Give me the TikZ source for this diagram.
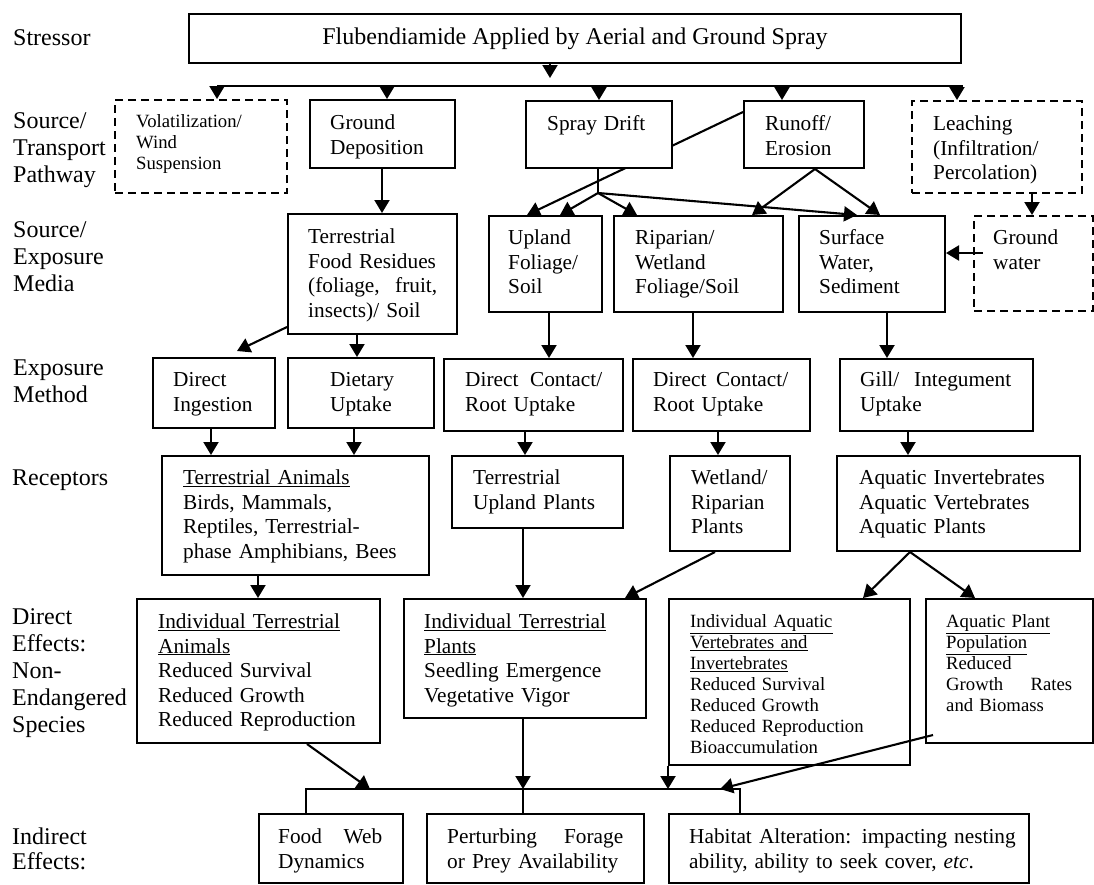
\documentclass[tikz,border=0pt]{standalone}
\usepackage{fontspec}
\setmainfont{Liberation Serif}
\usetikzlibrary{arrows.meta,backgrounds}
\newcommand\fL{\fontsize{24}{27}\selectfont}
\newcommand\fLi{\fontsize{24}{25}\selectfont}
\newcommand\fB{\fontsize{21.3}{24.5}\selectfont}
\newcommand\fS{\fontsize{18.7}{21}\selectfont}
\newcommand\bx[6][]{\node[box,#1,minimum width={#4pt-#2pt},minimum height={#5pt-#3pt}] (#6) at (#2,#3) {};}
\begin{document}
\begin{tikzpicture}[x=1pt,y=-1pt,
  box/.style={draw,line width=2pt,anchor=north west,inner sep=0pt,fill=white},
  dbox/.style={dash pattern=on 8pt off 5pt},
  txt/.style={anchor=base west,inner sep=0pt,align=left},
  ln/.style={line width=2.1pt},
  arr/.style={ln,-{Triangle[length=13pt,width=15pt]}}]
\useasboundingbox (0,0) rectangle (1094,884);

% ---------- boxes ----------
\node[box,minimum width=772pt,minimum height=49pt,font=\fL] (S) at (188,13) {Flubendiamide Applied by Aerial and Ground Spray};
\bx[dbox]{114}{99}{286}{192}{VO}
\bx{309}{99}{454}{167}{GD}
\bx{525}{100}{671}{167}{SD}
\bx{743}{100}{863}{167}{RO}
\bx[dbox]{911}{100}{1081}{192}{LE}
\bx{287}{213}{456}{333}{FR}
\bx{488}{215}{601}{311}{UF}
\bx{613}{215}{782}{311}{RW}
\bx{798}{215}{944}{311}{SW}
\bx[dbox]{973}{215}{1092}{310}{GW}
\bx{152}{357}{274}{427}{DI}
\bx{287}{357}{433}{427}{DU}
\bx{443}{358}{622}{430}{DCa}
\bx{632}{358}{809}{430}{DCb}
\bx{839}{358}{1032}{430}{GI}
\bx{161}{455}{428}{574}{TA}
\bx{451}{455}{622}{527}{TU}
\bx{669}{455}{789}{550}{WR}
\bx{836}{455}{1079}{550}{AQ}
\bx{136}{598}{379}{742}{ITA}
\bx{403}{598}{645}{717}{ITP}
\bx{668}{598}{909}{764}{IAV}
\bx{925}{598}{1092}{742}{AP}
\bx{258}{813}{402}{882}{FW}
\bx{426}{813}{643}{882}{PF}
\bx{668}{813}{1028}{882}{HA}

% ---------- row labels ----------
\node[txt,font=\fL,text width=130pt] (lS) at (13,45) {Stressor};
\node[txt,font=\fL,text width=130pt] (lSTP) at (13,128) {Source/\\Transport\\Pathway};
\node[txt,font=\fL,text width=130pt] (lSEM) at (13,237) {Source/\\Exposure\\Media};
\node[txt,font=\fL,text width=130pt] (lEM) at (13,375) {Exposure\\Method};
\node[txt,font=\fL,text width=130pt] (lR) at (12,485) {Receptors};
\node[txt,font=\fL,text width=130pt] (lDE) at (12,624) {Direct\\Effects:\\Non-\\Endangered\\Species};
\node[txt,font=\fLi,text width=130pt] (lIE) at (12,844) {Indirect\\Effects:};

% ---------- box texts ----------
\node[txt,font=\fS,text width=200pt] (tVO) at (136,127.5) {Volatilization/\\Wind\\Suspension};
\node[txt,font=\fB,text width=200pt] (tGD) at (330,129.5) {Ground\\Deposition};
\node[txt,font=\fB,text width=200pt] (tSD) at (547,130.5) {Spray Drift};
\node[txt,font=\fB,text width=200pt] (tRO) at (765,130.5) {Runoff/\\Erosion};
\node[txt,font=\fB,text width=200pt] (tLE) at (933,130.5) {Leaching\\(Infiltration/\\Percolation)};
\node[txt,font=\fB,text width=129pt] (tFR) at (308,243.5) {Terrestrial\\\mbox{Food Residues}\\(foliage,\hfill fruit,\\insects)/ Soil};
\node[txt,font=\fB,text width=200pt] (tUF) at (508,244.5) {Upland\\Foliage/\\Soil};
\node[txt,font=\fB,text width=200pt] (tRW) at (635,244.5) {Riparian/\\Wetland\\Foliage/Soil};
\node[txt,font=\fB,text width=200pt] (tSW) at (819,244.5) {Surface\\Water,\\Sediment};
\node[txt,font=\fB,text width=200pt] (tGW) at (993,244.5) {Ground\\water};
\node[txt,font=\fB,text width=200pt] (tDI) at (173,386.5) {Direct\\Ingestion};
\node[txt,font=\fB,text width=200pt] (tDU) at (330,386.5) {Dietary\\Uptake};
\node[txt,font=\fB,text width=137pt] (tDCa) at (465,386.5) {Direct\hfill Contact/\\Root Uptake};
\node[txt,font=\fB,text width=135pt] (tDCb) at (653,386.5) {Direct\hfill Contact/\\Root Uptake};
\node[txt,font=\fB,text width=151pt] (tGI) at (860,386.5) {Gill/\hfill Integument\\Uptake};
\node[txt,font=\fB,text width=260pt] (tTA) at (183,484.5) {\underline{Terrestrial Animals}\\Birds, Mammals,\\Reptiles, Terrestrial-\\phase Amphibians, Bees};
\node[txt,font=\fB,text width=200pt] (tTU) at (473,484.5) {Terrestrial\\Upland Plants};
\node[txt,font=\fB,text width=200pt] (tWR) at (691,484.5) {Wetland/\\Riparian\\Plants};
\node[txt,font=\fB,text width=230pt] (tAQ) at (859,484.5) {Aquatic Invertebrates\\Aquatic Vertebrates\\Aquatic Plants};
\node[txt,font=\fB,text width=230pt] (tITA) at (158,628.5) {\underline{Individual Terrestrial}\\\underline{Animals}\\Reduced Survival\\Reduced Growth\\Reduced Reproduction};
\node[txt,font=\fB,text width=230pt] (tITP) at (424,628.5) {\underline{Individual Terrestrial}\\\underline{Plants}\\Seedling Emergence\\Vegetative Vigor};
\node[txt,font=\fS,text width=230pt] (tIAV) at (690,627.5) {\underline{Individual Aquatic}\\\underline{Vertebrates and}\\\underline{Invertebrates}\\Reduced Survival\\Reduced Growth\\Reduced Reproduction\\Bioaccumulation};
\node[txt,font=\fS,text width=126pt] (tAP) at (946,627.5) {\underline{Aquatic Plant}\\\underline{Population}\\Reduced\\Growth\hfill Rates\\and Biomass};
\node[txt,font=\fB,text width=104pt] (tFW) at (278,843.5) {Food\hfill Web\\Dynamics};
\node[txt,font=\fB,text width=176pt] (tPF) at (447,843.5) {Perturbing\hfill Forage\\or Prey Availability};
\node[txt,font=\fB,text width=340pt] (tHA) at (689,843.5) {Habitat Alteration: impacting nesting\\ability, ability to seek cover, \textit{etc}.};

% ---------- connectors ----------
\coordinate (sTip) at (550,78);
\draw[arr] (sTip |- S.south) -- (sTip);
\coordinate (barL) at (217,86);
\coordinate (barR) at (963,86);
\draw[ln] (barL) -- (barR);
\draw[arr] (barL) -- (barL |- VO.north);
\draw[arr] (barL -| 387,0) -- (387,0 |- GD.north);
\draw[arr] (barL -| 599,0) -- (599,0 |- SD.north);
\draw[arr] (barL -| 782,0) -- (782,0 |- RO.north);
\draw[arr] (barL -| 957,0) -- (957,0 |- LE.north);

\draw[arr] (382,0 |- GD.south) -- (382,0 |- FR.north);
\begin{scope}[on background layer]
\draw[arr] ([yshift=-12pt]RO.north west) -- (527,0 |- UF.north);
\end{scope}
\coordinate (sdJ) at (598,193);
\draw[ln] (sdJ |- SD.south) -- (sdJ);
\draw[arr] (sdJ) -- (560,0 |- UF.north);
\draw[arr] (sdJ) -- (637,0 |- RW.north);
\draw[arr] (sdJ) -- (857,0 |- SW.north);
\draw[arr] (815,0 |- RO.south) -- (752,0 |- RW.north);
\draw[arr] (815,0 |- RO.south) -- (880,0 |- SW.north);
\draw[arr] (1032,0 |- LE.south) -- (1032,0 |- GW.north);
\coordinate (gwO) at (983,253);
\draw[arr] (gwO) -- (gwO -| SW.east);

\coordinate (diT) at (237,351);
\draw[arr] ([yshift=8pt]FR.south west) -- (diT);
\draw[arr] (357,0 |- FR.south) -- (357,0 |- DU.north);
\draw[arr] (549,0 |- UF.south) -- (549,0 |- DCa.north);
\draw[arr] (693,0 |- RW.south) -- (693,0 |- DCb.north);
\draw[arr] (887,0 |- SW.south) -- (887,0 |- GI.north);

\draw[arr] (211,0 |- DI.south) -- (211,0 |- TA.north);
\draw[arr] (354,0 |- DU.south) -- (354,0 |- TA.north);
\draw[arr] (525,0 |- DCa.south) -- (525,0 |- TU.north);
\draw[arr] (718,0 |- DCb.south) -- (718,0 |- WR.north);
\draw[arr] (908,0 |- GI.south) -- (908,0 |- AQ.north);

\draw[arr] (258,0 |- TA.south) -- (258,0 |- ITA.north);
\draw[arr] (523,0 |- TU.south) -- (523,0 |- ITP.north);
\draw[arr] (715,0 |- WR.south) -- (625,0 |- ITP.north);
\draw[arr] (910,0 |- AQ.south) -- (863,0 |- IAV.north);
\draw[arr] (910,0 |- AQ.south) -- (975,0 |- AP.north);

\coordinate (bL) at (306,789);
\coordinate (bR) at (740,789);
\draw[ln] (bL |- FW.north) -- (bL) -- (bR) -- (bR |- HA.north);
\draw[arr] (307,0 |- ITA.south) -- (370,0 |- bL);
\draw[arr] (523,0 |- ITP.south) -- (523,0 |- bL);
\draw[ln] (523,0 |- bL) -- (523,0 |- PF.north);
\draw[arr] (IAV.south west) -- (IAV.south west |- bL);
\draw[arr] ([shift={(8pt,9pt)}]AP.south west) -- (720,0 |- bL);
\end{tikzpicture}
\end{document}
